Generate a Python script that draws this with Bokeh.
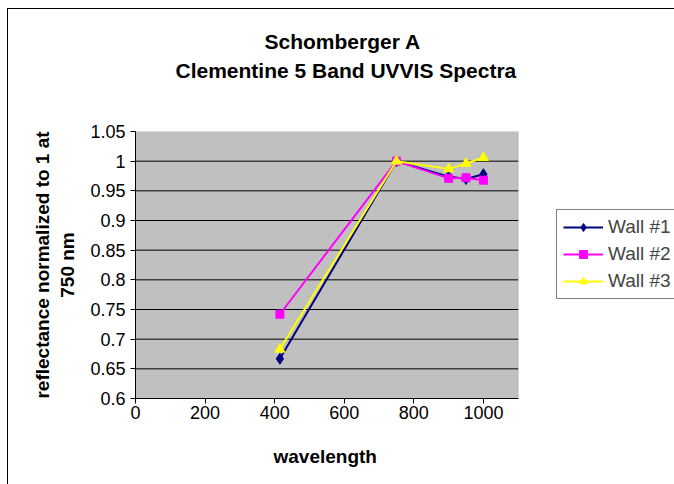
from bokeh.plotting import figure
from bokeh.models import FixedTicker, Legend, LegendItem, BoxAnnotation, Title
from bokeh.embed import file_html
from bokeh.resources import INLINE

# ---- data ----
wavelength = [415, 750, 900, 950, 1000]
wall1 = [0.667, 1.0, 0.974, 0.970, 0.978]
wall2 = [0.742, 1.0, 0.971, 0.972, 0.968]
wall3 = [0.683, 1.0, 0.987, 0.996, 1.006]
series_names = ["Wall #1", "Wall #2", "Wall #3"]
x_ticks = [0, 200, 400, 600, 800, 1000]
y_ticks = [0.6, 0.65, 0.7, 0.75, 0.8, 0.85, 0.9, 0.95, 1.0, 1.05]
y_tick_labels = ["0.6", "0.65", "0.7", "0.75", "0.8", "0.85", "0.9", "0.95", "1", "1.05"]
title_lines = ["Schomberger A", "Clementine 5 Band UVVIS Spectra"]
x_title = "wavelength"
y_title = "reflectance normalized to 1 at\n750 nm"
x_axis_range = (0, 1100)
y_axis_range = (0.6, 1.05)

FONT = "Liberation Sans"

# geometry (pixels): plot area is 382 px wide; the frame runs on to the right edge
PA_W, FR_W = 382, 539
x_end = x_axis_range[0] + (x_axis_range[1] - x_axis_range[0]) * FR_W / PA_W

p = figure(width=666, height=475, x_range=(x_axis_range[0], x_end), y_range=y_axis_range,
           output_backend="svg", toolbar_location=None,
           min_border_left=127, min_border_top=122, min_border_right=0, min_border_bottom=87,
           background_fill_color="white", border_fill_color="white")
p.styles = {"margin-left": "7px", "margin-top": "8px", "box-sizing": "content-box",
            "border-left": "1px solid black", "border-top": "1px solid black",
            "border-right": "none", "border-bottom": "none", "outline": "none"}
p.outline_line_color = None

# plot area
p.add_layout(BoxAnnotation(left=x_axis_range[0], right=x_axis_range[1],
                           bottom=y_axis_range[0], top=y_axis_range[1],
                           fill_color="#C0C0C0", fill_alpha=1,
                           line_color="#808080", line_width=1, level="image"))

# horizontal gridlines across the plot area only
p.grid.visible = False
grid_ticks = y_ticks[1:-1]
p.segment(x0=[x_axis_range[0]] * len(grid_ticks), x1=[x_axis_range[1]] * len(grid_ticks),
          y0=grid_ticks, y1=grid_ticks, line_color="black", line_width=1, level="underlay")

p.xaxis.ticker = FixedTicker(ticks=x_ticks)
p.yaxis.ticker = FixedTicker(ticks=y_ticks)
p.xaxis.bounds = x_axis_range
p.yaxis.major_label_overrides = dict(zip(y_ticks, y_tick_labels))
for ax in (p.xaxis, p.yaxis):
    ax.axis_line_color = "black"
    ax.major_tick_line_color = "black"
    ax.major_tick_out = 5
    ax.major_tick_in = 0
    ax.minor_tick_line_color = None
    ax.major_label_text_font = FONT
    ax.major_label_text_font_size = "18px"
    ax.major_label_text_color = "black"
    ax.axis_label_text_font = FONT
    ax.axis_label_text_font_size = "19px"
    ax.axis_label_text_font_style = "bold"
    ax.axis_label_text_color = "black"

p.xaxis.major_label_standoff = 2
p.yaxis.axis_label = y_title
p.yaxis.major_label_standoff = 5
p.yaxis.axis_label_standoff = 9

colors = ["#000080", "#FF00FF", "#FFFF00"]
markers = ["diamond", "square", "triangle"]
sizes = [11, 8, 10]
items = []
for ys, name, c, m, s in zip([wall1, wall2, wall3], series_names, colors, markers, sizes):
    r1 = p.line(wavelength, ys, line_color=c, line_width=2)
    r2 = p.scatter(wavelength, ys, marker=m, size=s, fill_color=c, line_color=c)
    items.append(LegendItem(label=name, renderers=[r1, r2]))

# the legend box runs past the right edge of the chart, as in the original
legend = Legend(items=items, location=(421, 99), border_line_color="black",
                background_fill_color="white", background_fill_alpha=1,
                label_text_font=FONT, label_text_font_size="19px",
                glyph_width=40, glyph_height=20, label_height=20, label_width=90,
                spacing=5, padding=6, margin=0, label_standoff=5)
p.add_layout(legend, "center")

def title(text, size, offset, standoff):
    return Title(text=text, align="left", offset=offset, standoff=standoff,
                 text_font=FONT, text_font_size=size, text_font_style="bold",
                 text_color="black")

# x-axis title (below the axis; a blank spacer sets its distance)
p.add_layout(title(" ", "1px", 0, 19), "below")
p.add_layout(title(x_title, "19px", 138, 0), "below")

# chart title: nearest-to-frame first (spacer, line 2, line 1)
p.add_layout(title(" ", "1px", 0, 47), "above")
p.add_layout(title(title_lines[1], "21px", 40, 0), "above")
p.add_layout(title(title_lines[0], "21px", 129, 8), "above")

open("out.html", "w").write(file_html(p, INLINE))
